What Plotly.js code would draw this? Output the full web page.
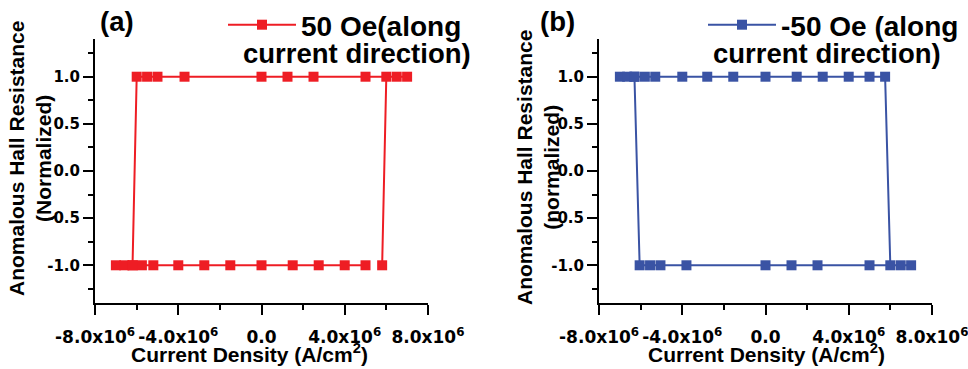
<!DOCTYPE html>
<html>
<head>
<meta charset="utf-8">
<script src="https://cdn.plot.ly/plotly-3.0.1.min.js"></script>
<style>html,body{margin:0;padding:0;background:#fff;}#chart{width:968px;height:369px;}</style>
</head>
<body>
<div id="chart"></div>
<script>
// ---- data (current density in A/cm^2, normalized AHE resistance) ----
// (a) +50 Oe along current direction
const xA = [-7.0e6, -6.6e6, -6.2e6, -5.75e6, -5.2e6, -4.0e6, -2.75e6, -1.5e6, 0, 1.5e6, 2.75e6, 4.0e6, 5.0e6, null,
            5.8e6, 6.0e6, 6.5e6, 7.0e6, 5.0e6, 2.5e6, 1.25e6, 0, -3.7e6, -5.0e6, -5.5e6, -6.0e6, -6.2e6];
const yA = [-1, -1, -1, -1, -1, -1, -1, -1, -1, -1, -1, -1, -1, null,
            -1, 1, 1, 1, 1, 1, 1, 1, 1, 1, 1, 1, -1];
// (b) -50 Oe along current direction
const xB = [-7.0e6, -6.65e6, -6.3e6, -5.8e6, -5.3e6, -4.0e6, -2.8e6, -1.55e6, 0, 1.5e6, 2.75e6, 4.0e6, 5.0e6, 5.75e6,
            6.0e6, 6.5e6, 7.0e6, 5.0e6, 2.5e6, 1.25e6, 0, -3.8e6, -5.05e6, -5.55e6, -6.05e6, -6.3e6];
const yB = [1, 1, 1, 1, 1, 1, 1, 1, 1, 1, 1, 1, 1, 1,
            -1, -1, -1, -1, -1, -1, -1, -1, -1, -1, -1, 1];

const nameA = '50 Oe(along';
const nameB = '-50 Oe (along';
const nameLine2 = 'current direction)';

const xTickVals = [-8e6, -4e6, 0, 4e6, 8e6];
const xTickText = ['-8.0x10<sup>6</sup>', '-4.0x10<sup>6</sup>', '0.0', '4.0x10<sup>6</sup>', '8.0x10<sup>6</sup>'];
const yTickVals = [-1, -0.5, 0, 0.5, 1];
const yTickText = ['-1.0', '-0.5', '0.0', '0.5', '1.0'];

const RED = '#ee1d24';
const BLUE = '#3a53a4';
const W = 968, H = 369, TOP = 7;
const px = v => v / W;
const py = v => 1 - (v - TOP) / (H - TOP);

const traces = [
  {x: xA, y: yA, xaxis: 'x', yaxis: 'y', name: nameA, legend: 'legend', mode: 'lines+markers',
   line: {color: RED, width: 2}, marker: {symbol: 'square', size: 10, color: RED}, connectgaps: false},
  {x: xB, y: yB, xaxis: 'x2', yaxis: 'y2', name: nameB, legend: 'legend2', mode: 'lines+markers',
   line: {color: BLUE, width: 2}, marker: {symbol: 'square', size: 10, color: BLUE}, connectgaps: false}
];

const tickFontX = {family: 'DejaVu Sans', size: 17, color: '#000', weight: 'bold'};
const tickFontY = {family: 'DejaVu Sans', size: 15, color: '#000', weight: 'bold'};
function xax(dom, anchor) {
  return {domain: dom, anchor: anchor, range: [-8.004e6, 8.004e6], tickmode: 'array', tickvals: xTickVals, ticktext: xTickText,
    showline: true, linewidth: 2, linecolor: '#000', ticks: 'outside', ticklen: 10, tickwidth: 2, tickcolor: '#000',
    minor: {dtick: 2e6, tick0: 0, ticks: 'outside', ticklen: 5, tickwidth: 2, tickcolor: '#000', showgrid: false},
    showgrid: false, zeroline: false, tickfont: tickFontX, ticklabelstandoff: 8, ticklabeloverflow: 'allow',
    automargin: false, fixedrange: true};
}
function yax(dom, anchor) {
  return {domain: dom, anchor: anchor, range: [-1.4, 1.4], tickmode: 'array', tickvals: yTickVals, ticktext: yTickText,
    showline: true, linewidth: 2, linecolor: '#000', ticks: 'outside', ticklen: 10, tickwidth: 2, tickcolor: '#000',
    minor: {dtick: 0.25, tick0: 0, ticks: 'outside', ticklen: 5, tickwidth: 2, tickcolor: '#000', showgrid: false},
    showgrid: false, zeroline: false, tickfont: tickFontY, ticklabeloverflow: 'allow', automargin: false, fixedrange: true};
}
const yDom = [py(303), py(39)];
const titleFont = {family: 'Liberation Sans, Arial, sans-serif', size: 21, color: '#000', weight: 'bold'};
const bigFont = {family: 'Liberation Sans, Arial, sans-serif', size: 27.5, color: '#000', weight: 'bold'};
const legFont = {family: 'Liberation Sans, Arial, sans-serif', size: 28, color: '#000', weight: 'bold'};

function ann(text, x, y, font, extra) {
  return Object.assign({text: text, xref: 'paper', yref: 'paper', x: x, y: y, showarrow: false, font: font,
    xanchor: 'center', yanchor: 'middle'}, extra || {});
}

const layout = {
  width: W, height: H, autosize: false,
  margin: {l: 0, r: 0, t: TOP, b: 0, pad: 0},
  paper_bgcolor: '#fff', plot_bgcolor: 'rgba(0,0,0,0)',
  xaxis: xax([px(95), px(428)], 'y'),
  yaxis: yax(yDom, 'x'),
  xaxis2: xax([px(599), px(932)], 'y2'),
  yaxis2: yax(yDom, 'x2'),
  showlegend: true,
  legend: {x: px(223), y: py(0), xanchor: 'left', yanchor: 'top',
    bgcolor: 'rgba(0,0,0,0)', borderwidth: 0, itemwidth: 68, font: legFont},
  legend2: {x: px(703), y: py(0), xanchor: 'left', yanchor: 'top',
    bgcolor: 'rgba(0,0,0,0)', borderwidth: 0, itemwidth: 68, font: legFont},
  annotations: [
    ann('(a)', px(117), py(21), bigFont),
    ann('(b)', px(557), py(21), bigFont),
    ann(nameLine2, px(241), py(54), bigFont, {xanchor: 'left'}),
    ann(nameLine2, px(711), py(53), bigFont, {xanchor: 'left'}),
    ann('Current Density (A/cm<sup>2</sup>)', px(249), py(353), titleFont),
    ann('Current Density (A/cm<sup>2</sup>)', px(766), py(353), titleFont),
    ann('Anomalous Hall Resistance<br>(Normalized)', px(30), py(159), titleFont, {textangle: -90}),
    ann('Anomalous Hall Resistance<br>(normalized)', px(538), py(168), titleFont, {textangle: -90})
  ]
};

Plotly.newPlot('chart', traces, layout, {displayModeBar: false, staticPlot: true});
</script>
</body>
</html>
